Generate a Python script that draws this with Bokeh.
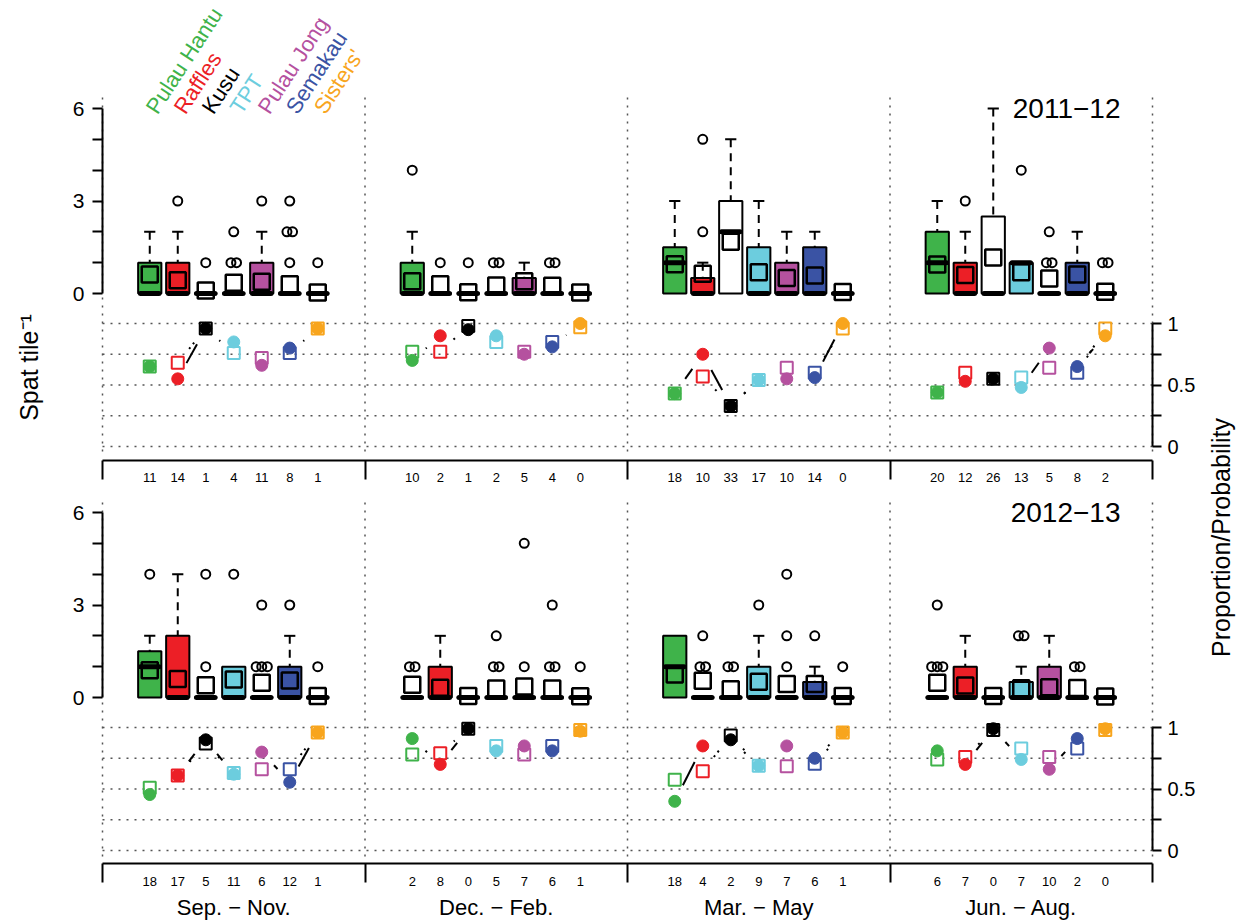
import math
from bokeh.plotting import figure
from bokeh.models import (Range1d, LinearAxis, FixedTicker, NumeralTickFormatter,
                          CustomJSTickFormatter)
from bokeh.core.properties import value
from bokeh.embed import file_html
from bokeh.resources import INLINE

# ---------------------------------------------------------------- data
sites = ["Pulau Hantu", "Raffles", "Kusu", "TPT", "Pulau Jong", "Semakau", "Sisters'"]
site_colors = ["#3FB34A", "#EC1F26", "#000000", "#6CCDDE", "#B5519F", "#3A53A4", "#F8A51D"]
box_fills = ["#3FB34A", "#EC1F26", "#FFFFFF", "#6CCDDE", "#B5519F", "#3A53A4", "#F8A51D"]
seasons = ["Sep. \u2212 Nov.", "Dec. \u2212 Feb.", "Mar. \u2212 May", "Jun. \u2212 Aug."]
years = ["2011\u221212", "2012\u221213"]
LOWER_Q = 0.0  # every lower quartile / lower whisker reads as 0

# 2011-12 (one list of 7 sites per season)
q3_y1 = [[1, 1, 0, 0, 1, 0, 0], [1, 0, 0, 0, 0.5, 0, 0],
         [1.5, 0.5, 3, 1.5, 1, 1.5, 0], [2, 1, 2.5, 1, 0, 1, 0]]
med_y1 = [[0, 0, 0, 0, 0, 0, 0], [0, 0, 0, 0, 0, 0, 0],
          [1, 0, 2, 0, 0, 0, 0], [1, 0, 0, 1, 0, 0, 0]]
whisk_y1 = [[2, 2, 0, 0, 2, 0, 0], [2, 0, 0, 0, 1, 0, 0],
            [3, 1, 5, 3, 2, 2, 0], [3, 2, 6, 1, 0, 2, 0]]
mean_y1 = [[0.62, 0.43, 0.10, 0.35, 0.38, 0.30, 0.03],
           [0.40, 0.30, 0.04, 0.26, 0.40, 0.25, 0.03],
           [0.95, 0.64, 1.68, 0.69, 0.50, 0.58, 0.05],
           [0.94, 0.60, 1.17, 0.69, 0.49, 0.62, 0.06]]
out_y1 = [[[], [3], [1], [1, 1, 2], [3], [1, 2, 2, 3], [1]],
          [[4], [1], [1], [1, 1], [], [1, 1], []],
          [[], [2, 5], [], [], [], [], []],
          [[], [3], [], [4], [1, 1, 2], [], [1, 1]]]
prop_y1 = [[0.65, 0.68, 0.96, 0.76, 0.72, 0.76, 0.96],
           [0.77, 0.77, 0.98, 0.85, 0.77, 0.85, 0.97],
           [0.43, 0.57, 0.33, 0.54, 0.64, 0.60, 0.96],
           [0.44, 0.60, 0.55, 0.56, 0.64, 0.60, 0.96]]
prob_y1 = [[0.65, 0.55, 0.96, 0.85, 0.66, 0.80, 0.96],
           [0.70, 0.90, 0.95, 0.90, 0.75, 0.81, 1.00],
           [0.43, 0.75, 0.33, 0.54, 0.55, 0.56, 1.00],
           [0.44, 0.53, 0.55, 0.48, 0.80, 0.65, 0.90]]
n_y1 = [[11, 14, 1, 4, 11, 8, 1], [10, 2, 1, 2, 5, 4, 0],
        [18, 10, 33, 17, 10, 14, 0], [20, 12, 26, 13, 5, 8, 2]]

# 2012-13
q3_y2 = [[1.5, 2, 0, 1, 0, 1, 0], [0, 1, 0, 0, 0, 0, 0],
         [2, 0, 0, 1, 0, 0.5, 0], [0, 1, 0, 0.5, 1, 0, 0]]
med_y2 = [[1, 0, 0, 0, 0, 0, 0], [0, 0, 0, 0, 0, 0, 0],
          [1, 0, 0, 0, 0, 0, 0], [0, 0, 0, 0, 0, 0, 0]]
whisk_y2 = [[2, 4, 0, 1, 0, 2, 0], [0, 2, 0, 0, 0, 0, 0],
            [2, 0, 0, 2, 0, 1, 0], [0, 2, 0, 1, 2, 0, 0]]
mean_y2 = [[0.88, 0.60, 0.40, 0.58, 0.48, 0.55, 0.05],
           [0.41, 0.32, 0.05, 0.29, 0.36, 0.29, 0.04],
           [0.75, 0.54, 0.27, 0.51, 0.44, 0.44, 0.05],
           [0.48, 0.39, 0.05, 0.30, 0.33, 0.31, 0.03]]
out_y2 = [[[4], [], [1, 4], [4], [1, 1, 1, 3], [3], [1]],
          [[1, 1], [], [], [1, 1, 2], [1, 5], [1, 1, 3], [1]],
          [[], [1, 1, 2], [1, 1], [3], [1, 2, 4], [2], [1]],
          [[1, 1, 1, 3], [], [], [2, 2], [], [1, 1], []]]
prop_y2 = [[0.51, 0.61, 0.87, 0.63, 0.66, 0.66, 0.96],
           [0.78, 0.79, 0.99, 0.85, 0.78, 0.85, 0.98],
           [0.575, 0.645, 0.935, 0.69, 0.685, 0.705, 0.96],
           [0.74, 0.76, 0.98, 0.83, 0.76, 0.83, 0.98]]
prob_y2 = [[0.455, 0.61, 0.90, 0.62, 0.80, 0.555, 0.96],
           [0.91, 0.70, 0.99, 0.81, 0.85, 0.81, 0.97],
           [0.40, 0.85, 0.90, 0.69, 0.85, 0.75, 0.96],
           [0.81, 0.70, 0.99, 0.74, 0.66, 0.91, 0.99]]
n_y2 = [[18, 17, 5, 11, 6, 12, 1], [2, 8, 0, 5, 7, 6, 1],
        [18, 4, 2, 9, 7, 6, 1], [6, 7, 0, 7, 10, 2, 0]]

spat_ticks = [0, 3, 6]
spat_minor = [1, 2, 4, 5]
prop_ticks = [0, 0.5, 1]
prop_minor = [0.25, 0.75]
prop_grid = [0, 0.25, 0.5, 0.75, 1]

# ---------------------------------------------------------------- layout
FW, FH = 1236, 920
PX0, PY0 = 0, 0          # canvas origin on the photographed page
X_PPU = 28.0
X_ORIGIN = 102.0
SEASON_W = 9.375
SITE_OFF = 1.6875
BOX_HW = 0.415
GAP = 18.0
FONT = "Liberation Sans"
DOTS = "2 6"


def pg(y_page):
    return PY0 + FH - y_page


def y_range_for(v_top, p_top, v_bot, p_bot):
    ppu = (p_bot - p_top) / (v_top - v_bot)
    return Range1d(start=v_bot - (PY0 + FH - p_bot) / ppu,
                   end=v_top + (p_top - PY0) / ppu), ppu


ROWS = [
    dict(spat=(108, 293), prop=(323, 446), bracket=460, vdots=(97, 452), nlab=477, year_y=108,
         q3=q3_y1, med=med_y1, whisk=whisk_y1, mean=mean_y1, out=out_y1,
         prop_v=prop_y1, prob_v=prob_y1, n=n_y1, year=years[0]),
    dict(spat=(512, 697), prop=(727, 850), bracket=863, vdots=(502, 857), nlab=881, year_y=512,
         q3=q3_y2, med=med_y2, whisk=whisk_y2, mean=mean_y2, out=out_y2,
         prop_v=prop_y2, prob_v=prob_y2, n=n_y2, year=years[1]),
]

p = figure(width=FW, height=FH,
           x_range=Range1d(-(X_ORIGIN - PX0) / X_PPU, (PX0 + FW - X_ORIGIN) / X_PPU),
           y_range=Range1d(0, FH),
           output_backend="svg", toolbar_location=None,
           x_axis_location=None, y_axis_location=None, min_border=0,
           outline_line_color=None)
p.xgrid.visible = False
p.ygrid.visible = False
p.background_fill_color = "white"
p.border_fill_color = "white"
p.extra_x_ranges = {"px": Range1d(PX0, PX0 + FW)}

site_x = [s * SEASON_W + SITE_OFF + i for s in range(4) for i in range(7)]
bounds_x = [s * SEASON_W for s in range(5)]
season_cx = [s * SEASON_W + SEASON_W / 2 for s in range(4)]
colors_flat = site_colors * 4
fills_flat = box_fills * 4


def flat(a):
    return [v for season in a for v in season]


def style_axis(ax, tick_out, size, standoff):
    ax.axis_line_width = 2
    ax.axis_line_color = "black"
    ax.major_tick_line_width = 2
    ax.major_tick_out = tick_out
    ax.major_tick_in = 0
    ax.minor_tick_line_width = 2
    ax.minor_tick_out = tick_out
    ax.minor_tick_in = 0
    ax.major_label_text_font = FONT
    ax.major_label_text_font_size = size
    ax.major_label_standoff = standoff
    ax.major_label_text_color = "black"


def gap_segments(xs, ys, yppu):
    x0, y0, x1, y1 = [], [], [], []
    for s in range(4):
        for i in range(6):
            a = s * 7 + i
            b = a + 1
            dx = (xs[b] - xs[a]) * X_PPU
            dy = (ys[b] - ys[a]) * yppu
            d = math.hypot(dx, dy)
            if d > 2 * GAP:
                f = GAP / d
                x0.append(xs[a] + (xs[b] - xs[a]) * f)
                y0.append(ys[a] + (ys[b] - ys[a]) * f)
                x1.append(xs[b] - (xs[b] - xs[a]) * f)
                y1.append(ys[b] - (ys[b] - ys[a]) * f)
    return x0, y0, x1, y1


extra_y = {}
for r, row in enumerate(ROWS):
    sname, pname = f"spat{r}", f"prop{r}"
    srange, s_ppu = y_range_for(6, row["spat"][0], 0, row["spat"][1])
    prange, p_ppu = y_range_for(1, row["prop"][0], 0, row["prop"][1])
    extra_y[sname] = srange
    extra_y[pname] = prange
    row["s_ppu"], row["p_ppu"] = s_ppu, p_ppu
p.extra_y_ranges = extra_y

for r, row in enumerate(ROWS):
    sname, pname = f"spat{r}", f"prop{r}"
    # dotted grid
    p.segment(x0=bounds_x, x1=bounds_x, y0=[pg(row["vdots"][0])] * 5, y1=[pg(row["vdots"][1])] * 5,
              line_color="#555555", line_width=1.5, line_dash=DOTS)
    p.segment(x0=[bounds_x[0]] * 5, x1=[bounds_x[-1]] * 5, y0=prop_grid, y1=prop_grid,
              line_color="#555555", line_width=1.5, line_dash=DOTS, y_range_name=pname)

    q3 = flat(row["q3"])
    med = flat(row["med"])
    wh = flat(row["whisk"])
    mn = flat(row["mean"])
    # whiskers
    wx = [x for x, a, b in zip(site_x, q3, wh) if b > a]
    wt = [b for a, b in zip(q3, wh) if b > a]
    wb = [a for a, b in zip(q3, wh) if b > a]
    p.segment(x0=wx, y0=wt, x1=wx, y1=wb, line_color="black", line_width=2,
              line_dash="8 6", y_range_name=sname)
    p.segment(x0=[x - 0.2 for x in wx], x1=[x + 0.2 for x in wx], y0=wt, y1=wt,
              line_color="black", line_width=2, y_range_name=sname)
    # boxes
    p.quad(left=[x - BOX_HW for x in site_x], right=[x + BOX_HW for x in site_x],
           bottom=[LOWER_Q] * 28, top=q3, fill_color=fills_flat, line_color="black",
           line_width=2, y_range_name=sname)
    # medians
    p.segment(x0=[x - 0.33 for x in site_x], x1=[x + 0.33 for x in site_x], y0=med, y1=med,
              line_color="black", line_width=5, line_cap="round", y_range_name=sname)
    # outliers
    ox, oy = [], []
    for k, outs in enumerate(flat(row["out"])):
        for v in sorted(set(outs)):
            c = outs.count(v)
            for j in range(c):
                ox.append(site_x[k] + (j - (c - 1) / 2) * 0.2)
                oy.append(v)
    p.scatter(x=ox, y=oy, marker="circle", size=9, fill_color=None, line_color="black",
              line_width=2, y_range_name=sname)
    # means
    p.scatter(x=site_x, y=mn, marker="square", size=16, fill_color=None, line_color="black",
              line_width=2.5, y_range_name=sname)

    # proportions / probabilities
    pv = flat(row["prop_v"])
    bv = flat(row["prob_v"])
    x0, y0, x1, y1 = gap_segments(site_x, pv, row["p_ppu"])
    p.segment(x0=x0, y0=y0, x1=x1, y1=y1, line_color="black", line_width=2,
              line_dash="2 4", y_range_name=pname)
    x0, y0, x1, y1 = gap_segments(site_x, bv, row["p_ppu"])
    p.segment(x0=x0, y0=y0, x1=x1, y1=y1, line_color="black", line_width=2,
              y_range_name=pname)
    p.scatter(x=site_x, y=pv, marker="square", size=12, fill_color=None,
              line_color=colors_flat, line_width=2, y_range_name=pname)
    p.scatter(x=site_x, y=bv, marker="circle", size=12, fill_color=colors_flat,
              line_color=colors_flat, y_range_name=pname)

    # n labels
    p.text(x=site_x, y=[pg(row["nlab"])] * 28, text=[str(v) for v in flat(row["n"])],
           text_font=value(FONT), text_font_size=value("13px"), text_color="black",
           text_align="center", text_baseline="middle")
    # year label
    p.text(x=[1120], y=[pg(row["year_y"])], text=[row["year"]], x_range_name="px",
           text_font=value(FONT), text_font_size=value("28px"), text_color="black",
           text_align="right", text_baseline="middle")

    # axes
    la = LinearAxis(y_range_name=sname, fixed_location=0, bounds=(0, 6),
                    ticker=FixedTicker(ticks=spat_ticks, minor_ticks=spat_minor))
    style_axis(la, 10, "21px", 8)
    p.add_layout(la, "left")
    ra = LinearAxis(y_range_name=pname, fixed_location=bounds_x[-1], bounds=(0, 1),
                    ticker=FixedTicker(ticks=prop_ticks, minor_ticks=prop_minor),
                    formatter=NumeralTickFormatter(format="0.[0]"))
    style_axis(ra, 9, "20px", 6)
    p.add_layout(ra, "right")
    ba = LinearAxis(fixed_location=pg(row["bracket"]), bounds=(bounds_x[0], bounds_x[-1]),
                    ticker=FixedTicker(ticks=bounds_x),
                    formatter=CustomJSTickFormatter(code="return ''"))
    style_axis(ba, 19, "1px", 0)
    p.add_layout(ba, "below")

# site names
p.text(x=[x + 0.05 for x in site_x[:7]], y=[pg(111)] * 7, text=sites, text_color=site_colors,
       angle=math.radians(57), text_font=value(FONT), text_font_size=value("22px"),
       text_align="left", text_baseline="alphabetic")
# season labels
p.text(x=season_cx, y=[pg(907)] * 4, text=seasons, text_font=value(FONT),
       text_font_size=value("22px"), text_color="black", text_align="center",
       text_baseline="middle")
# axis titles
p.text(x=[28], y=[pg(367)], text=["Spat tile\u207b\u00b9"], x_range_name="px", angle=math.pi / 2,
       text_font=value(FONT), text_font_size=value("25px"), text_color="black",
       text_align="center", text_baseline="middle")
p.text(x=[1220], y=[pg(537)], text=["Proportion/Probability"], x_range_name="px",
       angle=math.pi / 2, text_font=value(FONT), text_font_size=value("25px"),
       text_color="black", text_align="center", text_baseline="middle")

open("out.html", "w").write(file_html(p, INLINE))
